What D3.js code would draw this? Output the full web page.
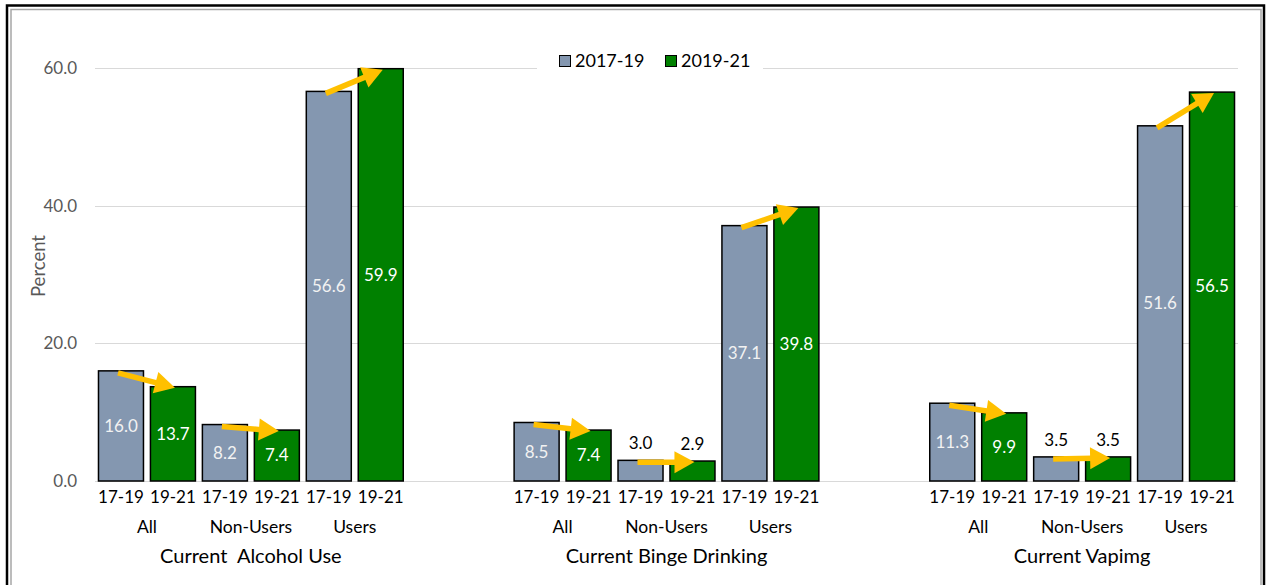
<!DOCTYPE html>
<html>
<head>
<meta charset="utf-8">
<script src="https://cdn.jsdelivr.net/npm/d3@7/dist/d3.min.js"></script>
<style>
  html, body { margin: 0; padding: 0; background: #fff; }
  svg { display: block; font-family: Lato, "Open Sans", sans-serif; }
</style>
</head>
<body>
<svg id="chart" width="1267" height="585"></svg>
<script>
// ---- data ----
const groups = ["Current  Alcohol Use", "Current Binge Drinking", "Current Vapimg"];
const subgroups = ["All", "Non-Users", "Users"];
const periods = ["17-19", "19-21"];
const seriesNames = ["2017-19", "2019-21"];
// one value per group x subgroup, in order
const values1719 = [16.0, 8.2, 56.6, 8.5, 3.0, 37.1, 11.3, 3.5, 51.6];
const values1921 = [13.7, 7.4, 59.9, 7.4, 2.9, 39.8, 9.9, 3.5, 56.5];
const yTicks = [0, 20, 40, 60];
const colors = ["#8497b0", "#008000"];

const svg = d3.select("#chart");
const plot = { left: 95, right: 1238, top: 68, bottom: 481 };

// frame
svg.append("rect").attr("x", 7).attr("y", 5.5).attr("width", 1257).attr("height", 600)
  .attr("fill", "none").attr("stroke", "#000").attr("stroke-width", 2.5);
svg.append("rect").attr("x", 11).attr("y", 9.5).attr("width", 1250).attr("height", 600)
  .attr("fill", "none").attr("stroke", "#a6a6a6").attr("stroke-width", 1.5);

// category slots: 6 bars per group, two empty slots between groups
const slots = [];
groups.forEach((g, gi) => {
  subgroups.forEach((s, si) => periods.forEach((p, pi) => slots.push(`${gi}|${si}|${pi}`)));
  if (gi < groups.length - 1) { slots.push(`gap${gi}a`); slots.push(`gap${gi}b`); }
});

const x = d3.scaleBand().domain(slots).range([plot.left, plot.right])
  .paddingInner(0.134).paddingOuter(0.067);
const y = d3.scaleLinear().domain([0, 60]).range([plot.bottom, plot.top]);
const bw = x.bandwidth();

// gridlines
svg.append("g").selectAll("line").data(yTicks).join("line")
  .attr("x1", plot.left).attr("x2", plot.right)
  .attr("y1", d => Math.round(y(d)) + 0.5).attr("y2", d => Math.round(y(d)) + 0.5)
  .attr("stroke", "#d9d9d9").attr("stroke-width", 1.2);

// y axis labels
const yAxis = d3.axisLeft(y).tickValues(yTicks).tickFormat(d3.format(".1f")).tickSize(0).tickPadding(0);
const yg = svg.append("g").attr("transform", `translate(77,0)`).call(yAxis);
yg.select(".domain").remove();
yg.selectAll("text").attr("fill", "#595959").attr("font-size", 17).attr("font-family", "Lato");

svg.append("text").attr("transform", "translate(45,266) rotate(-90)")
  .attr("text-anchor", "middle").attr("font-size", 18.5).attr("fill", "#595959").text("Percent");

// bars
const bars = [];
groups.forEach((g, gi) => subgroups.forEach((s, si) => {
  const i = gi * subgroups.length + si;
  [values1719[i], values1921[i]].forEach((v, pi) => bars.push({ key: `${gi}|${si}|${pi}`, v, pi }));
}));

svg.append("g").selectAll("rect").data(bars).join("rect")
  .attr("x", d => x(d.key)).attr("width", bw)
  .attr("y", d => y(d.v)).attr("height", d => y(0) - y(d.v))
  .attr("fill", d => colors[d.pi]).attr("stroke", "#000").attr("stroke-width", 1.5);

// value labels: small bars get their label above the bar
svg.append("g").selectAll("text").data(bars).join("text")
  .attr("x", d => x(d.key) + bw / 2)
  .attr("y", d => d.v < 5 ? y(d.v) - 17 : (y(d.v) + y(0)) / 2)
  .attr("dy", "0.35em").attr("text-anchor", "middle").attr("font-size", 17)
  .attr("fill", d => d.v < 5 ? "#000" : (d.pi === 0 ? "#f2f2f2" : "#fff"))
  .text(d => d.v.toFixed(1));

// trend arrows from the 17-19 bar top to the 19-21 bar top
const arrows = [];
groups.forEach((g, gi) => subgroups.forEach((s, si) => {
  const i = gi * subgroups.length + si;
  arrows.push({
    x1: x(`${gi}|${si}|0`) + bw / 2 - 3, y1: y(values1719[i]) + 2,
    x2: x(`${gi}|${si}|1`) + bw / 2 + 2, y2: y(values1921[i]) + 1
  });
}));
const ag = svg.append("g");
const headLen = 20, headHalf = 11;
arrows.forEach(a => {
  const dx = a.x2 - a.x1, dy = a.y2 - a.y1, len = Math.hypot(dx, dy);
  const ux = dx / len, uy = dy / len, nx = -uy, ny = ux;
  const bx = a.x2 - ux * headLen, by = a.y2 - uy * headLen;
  ag.append("line").attr("x1", a.x1).attr("y1", a.y1).attr("x2", bx + ux * 2).attr("y2", by + uy * 2)
    .attr("stroke", "#ffc000").attr("stroke-width", 5.5);
  ag.append("path")
    .attr("d", `M${a.x2},${a.y2}L${bx + nx * headHalf},${by + ny * headHalf}L${bx - nx * headHalf},${by - ny * headHalf}Z`)
    .attr("fill", "#ffc000");
});

// category axis labels
svg.append("g").selectAll("text").data(slots.filter(k => !k.startsWith("gap"))).join("text")
  .attr("x", k => x(k) + bw / 2).attr("y", 503).attr("text-anchor", "middle")
  .attr("font-size", 17).attr("fill", "#000").text(k => periods[+k.split("|")[2]]);

const subLabels = [];
groups.forEach((g, gi) => subgroups.forEach((s, si) => subLabels.push({ gi, si, s })));
svg.append("g").selectAll("text").data(subLabels).join("text")
  .attr("x", d => (x(`${d.gi}|${d.si}|0`) + x(`${d.gi}|${d.si}|1`) + bw) / 2)
  .attr("y", 533).attr("text-anchor", "middle").attr("font-size", 17.5).attr("fill", "#000")
  .text(d => d.s);

svg.append("g").selectAll("text").data(groups).join("text")
  .attr("x", (g, gi) => (x(`${gi}|0|0`) + x(`${gi}|2|1`) + bw) / 2)
  .attr("y", 563).attr("text-anchor", "middle").attr("font-size", 20).attr("fill", "#000")
  .style("white-space", "pre").text(g => g);

// legend
const lg = svg.append("g");
lg.append("rect").attr("x", 537).attr("y", 49).attr("width", 226).attr("height", 24).attr("fill", "#fff");
const legendX = [559, 665];
seriesNames.forEach((n, i) => {
  lg.append("rect").attr("x", legendX[i] + 0.5).attr("y", 55.5).attr("width", 11).attr("height", 11)
    .attr("fill", colors[i]).attr("stroke", "#000").attr("stroke-width", 1);
  lg.append("text").attr("x", legendX[i] + 16).attr("y", 67).attr("font-size", 18).attr("fill", "#000").text(n);
});
</script>
</body>
</html>
